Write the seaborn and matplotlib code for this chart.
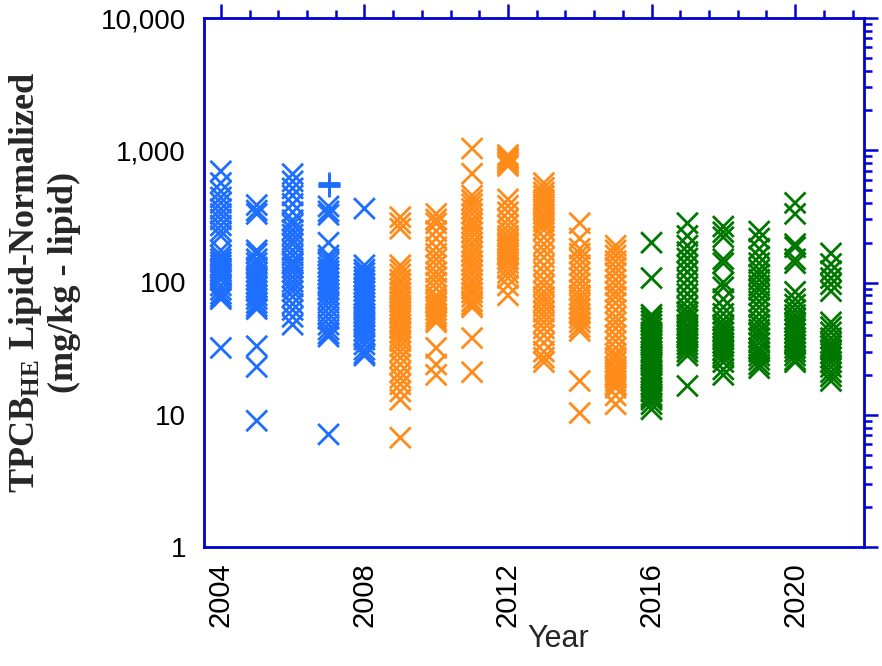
import numpy as np
import pandas as pd
import matplotlib
matplotlib.use("Agg")
import matplotlib.pyplot as plt
import matplotlib.ticker as mticker
import seaborn as sns

# ---------------- data ----------------
years = list(range(2004, 2022))

v2004 = [693, 565, 490, 440, 400, 360, 330, 300, 270, 245, 225, 175, 160, 150,
         142, 135, 128, 122, 117, 112, 105, 95, 88, 82, 78, 75, 32]
v2005 = [385, 350, 330, 175, 165, 150, 140, 130, 120, 112, 105, 98, 92, 86, 80,
         75, 70, 66, 63, 33, 23, 9]
v2006 = [660, 582, 515, 455, 393, 340, 296, 275, 250, 230, 210, 195, 175, 160,
         145, 138, 130, 120, 110, 101, 93, 86, 78, 69, 62, 55, 48]
v2007 = [376, 345, 325, 200, 160, 150, 140, 130, 122, 115, 108, 100, 94, 88, 82,
         76, 70, 64, 58, 53, 48, 44, 41, 39, 7.1]
v2007_plus = [565, 548, 533]
v2008 = [362, 135, 125, 118, 110, 104, 98, 92, 86, 80, 75, 70, 66, 62, 58, 55,
         52, 49, 46, 43, 40, 37, 34, 31, 29, 28]
v2009 = [312, 281, 255, 135, 125, 115, 105, 98, 90, 84, 78, 72, 67, 63, 60, 57,
         54, 51, 48, 45, 42, 39, 36, 33, 30, 27, 24, 21, 19, 17, 15, 13, 6.7]
v2010 = [330, 300, 280, 245, 215, 185, 165, 150, 135, 120, 110, 100, 90, 80, 75,
         70, 66, 62, 58, 55, 52, 50, 32, 24, 20]
v2011 = [1030, 665, 455, 420, 390, 360, 330, 300, 280, 260, 240, 220, 200, 185,
         170, 158, 145, 135, 125, 115, 105, 98, 90, 84, 78, 72, 68, 65, 38, 21]
v2012 = [920, 880, 850, 820, 790, 760, 425, 380, 340, 300, 270, 245, 225, 210,
         200, 190, 182, 175, 168, 160, 150, 140, 128, 118, 108, 95, 80]
v2013 = [565, 520, 480, 450, 420, 390, 360, 330, 310, 290, 270, 250, 220, 195,
         175, 155, 135, 120, 105, 95, 85, 78, 72, 66, 60, 55, 50, 45, 40, 35, 30,
         27, 25]
v2014 = [281, 215, 180, 165, 150, 135, 120, 108, 98, 88, 80, 74, 68, 63, 58, 54,
         50, 46, 43, 18, 10.3]
v2015 = [190, 175, 160, 145, 130, 118, 105, 95, 85, 78, 70, 62, 55, 50, 45, 40,
         36, 32, 29, 27, 25, 23, 22, 21, 20, 19, 18, 17, 16, 14, 12]
v2016 = [200, 108, 57, 54, 51, 48, 45, 42, 40, 38, 36, 34, 32, 30, 28, 27, 26,
         25, 24, 22, 21, 20, 19, 18, 17, 16, 15, 14, 13.5, 13, 12, 11]
v2017 = [281, 225, 190, 170, 152, 135, 120, 105, 93, 82, 73, 65, 60, 56, 52, 48,
         45, 42, 40, 38, 36, 34, 32, 30, 28, 16.5]
v2018 = [265, 240, 220, 150, 140, 100, 92, 75, 65, 58, 52, 48, 45, 42, 39, 37,
         35, 33, 31, 29, 27, 25, 22, 20]
v2019 = [243, 215, 180, 157, 140, 125, 115, 105, 95, 88, 80, 72, 65, 58, 52, 48,
         44, 41, 38, 35, 32, 30, 28, 26, 24, 22.5]
v2020 = [400, 330, 195, 185, 150, 140, 85, 75, 68, 62, 57, 53, 50, 47, 44, 41,
         38, 36, 34, 32, 30, 28, 26, 25]
v2021 = [166, 138, 122, 108, 97, 86, 50, 46, 42, 38, 35, 33, 31, 29, 27, 25, 23,
         21, 19.5, 18]

series = [v2004, v2005, v2006, v2007, v2008, v2009, v2010, v2011, v2012, v2013,
          v2014, v2015, v2016, v2017, v2018, v2019, v2020, v2021]
periods = ["2004-2008"] * 5 + ["2009-2015"] * 7 + ["2016-2021"] * 6

palette = {"2004-2008": "#1E6EFF", "2009-2015": "#FF8C1A", "2016-2021": "#007800"}
axis_color = "#0000D2"

rows = []
for yr, vals, per in zip(years, series, periods):
    for v in vals:
        rows.append({"Year": yr, "Value": v, "Period": per})
df = pd.DataFrame(rows)
df_plus = pd.DataFrame({"Year": [2007] * len(v2007_plus), "Value": v2007_plus})

# ---------------- figure ----------------
sns.set_style("white")
plt.rcParams["font.family"] = ["Liberation Sans", "DejaVu Sans"]
plt.rcParams["mathtext.fontset"] = "custom"
plt.rcParams["mathtext.rm"] = "Liberation Serif:bold"
plt.rcParams["mathtext.bf"] = "Liberation Serif:bold"
plt.rcParams["mathtext.default"] = "bf"

fig = plt.figure(figsize=(8.82, 6.66), dpi=100)
ax = fig.add_axes([204 / 882, 1 - 547 / 666, 660 / 882, 529 / 666])

sns.scatterplot(data=df, x="Year", y="Value", hue="Period", palette=palette,
                marker="x", s=225, linewidth=2.0, legend=False, ax=ax, zorder=3)
sns.scatterplot(data=df_plus, x="Year", y="Value", color=palette["2004-2008"],
                marker="+", s=260, linewidth=2.0, legend=False, ax=ax, zorder=3)

ax.set_yscale("log")
ax.set_ylim(1, 10000)
ax.set_xlim(2003.53, 2021.92)

ax.xaxis.set_major_locator(mticker.FixedLocator([2004, 2008, 2012, 2016, 2020]))
ax.xaxis.set_minor_locator(mticker.AutoMinorLocator(5))
ax.yaxis.set_major_locator(mticker.LogLocator(base=10, numticks=10))
ax.yaxis.set_minor_locator(mticker.LogLocator(base=10, subs=np.arange(2, 10), numticks=20))
ax.yaxis.set_minor_formatter(mticker.NullFormatter())
ax.yaxis.set_major_formatter(mticker.FuncFormatter(lambda v, p: f"{v:,.0f}"))

for sp in ax.spines.values():
    sp.set_color(axis_color)
    sp.set_linewidth(2.0)
    sp.set_visible(True)

ax.tick_params(which="both", direction="out", top=True, right=True,
               color=axis_color, width=1.8, labelcolor="black")
ax.tick_params(which="major", length=10, labelsize=20, pad=3)
ax.tick_params(which="minor", length=6)
ax.tick_params(axis="x", which="major", labelrotation=90, labelsize=21, pad=1)

ax.set_xlabel("Year", fontsize=22, labelpad=0)
ax.xaxis.set_label_coords(0.536, -0.145)
ax.set_ylabel("TPCB$_{HE}$ Lipid-Normalized\n(mg/kg - lipid)",
              fontsize=26, fontweight="bold", family="Liberation Serif",
              linespacing=1.15)
ax.yaxis.set_label_coords(-0.187, 0.5)

fig.savefig("out.png", dpi=100)
